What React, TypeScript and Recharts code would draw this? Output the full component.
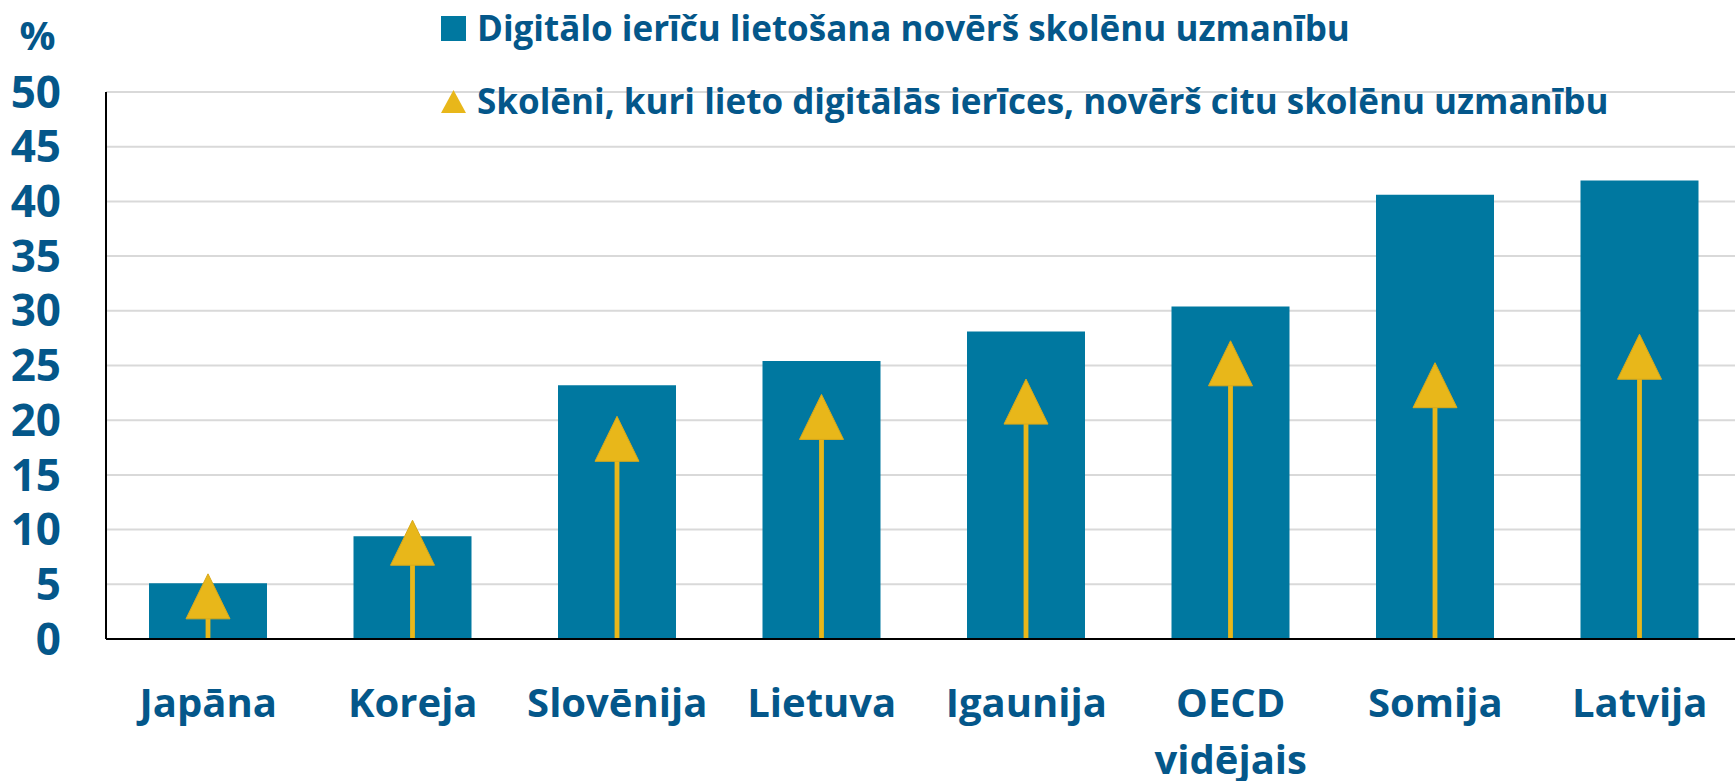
import { Bar, ComposedChart, CartesianGrid, XAxis, YAxis } from "recharts";

const countries = ["Japāna", "Koreja", "Slovēnija", "Lietuva", "Igaunija", "OECD\nvidējais", "Somija", "Latvija"];
const devicesDistract = [5.1, 9.4, 23.2, 25.4, 28.1, 30.4, 40.6, 41.9];
const othersDistract = [3.9, 8.8, 18.3, 20.3, 21.7, 25.2, 23.2, 25.8];
const yTicks = [0, 5, 10, 15, 20, 25, 30, 35, 40, 45, 50];

const seriesNames = [
  "Digitālo ierīču lietošana novērš skolēnu uzmanību",
  "Skolēni, kuri lieto digitālās ierīces, novērš citu skolēnu uzmanību",
];

const data = countries.map((c, i) => ({ country: c, devices: devicesDistract[i], others: othersDistract[i] }));

const BLUE = "#0078A0";
const GOLD = "#E8B71A";
const TEXT = "#04578A";
const FONT = "'Open Sans', Lato, sans-serif";

function ArrowShape(props: any) {
  const { x, y, width, height } = props;
  const cx = x + width / 2;
  const base = y + height;
  const tw = 44;
  const th = 45;
  return (
    <g>
      <rect x={cx - 2.4} y={y} width={4.8} height={Math.max(0, base - y)} fill={GOLD} />
      <polygon
        points={`${cx},${y - th / 2} ${cx - tw / 2},${y + th / 2} ${cx + tw / 2},${y + th / 2}`}
        fill={GOLD}
        stroke="#D9A91A"
        strokeWidth={1}
      />
    </g>
  );
}

function CountryTick(props: any) {
  const { x, y, payload } = props;
  const lines = String(payload.value).split("\n");
  return (
    <text x={x} y={y} textAnchor="middle" fill={TEXT} fontSize={40} fontWeight={700} fontFamily={FONT}>
      {lines.map((l, i) => (
        <tspan key={i} x={x} dy={i === 0 ? 70 : 56.5}>
          {l}
        </tspan>
      ))}
    </text>
  );
}

function LegendBox() {
  return (
    <svg width={1300} height={125} style={{ position: "absolute", left: 435, top: 0 }}>
      <rect x={6} y={16} width={25} height={25} fill={BLUE} />
      <text x={42} y={41} fill={TEXT} fontSize={35} fontWeight={700} fontFamily={FONT}>
        {seriesNames[0]}
      </text>
      <polygon points="18.5,90 6,113 31,113" fill={GOLD} />
      <text x={42} y={114} fill={TEXT} fontSize={35} fontWeight={700} fontFamily={FONT}>
        {seriesNames[1]}
      </text>
    </svg>
  );
}

export default function App() {
  return (
    <div style={{ position: "absolute", left: 0, top: 0, width: 1735, height: 781, overflow: "hidden", background: "#fff" }}>
      <ComposedChart width={1760} height={781} data={data} margin={{ top: 92, right: 18, left: 0, bottom: 0 }}>
        <CartesianGrid vertical={false} stroke="#D9D9D9" strokeWidth={2} />
        <XAxis dataKey="country" xAxisId="arrows" hide height={0} />
        <XAxis
          dataKey="country"
          xAxisId="bars"
          height={142}
          axisLine={{ stroke: "#000", strokeWidth: 2 }}
          tickLine={false}
          tick={<CountryTick />}
          interval={0}
        />
        <YAxis
          width={106}
          domain={[0, 50]}
          ticks={yTicks}
          interval={0}
          axisLine={{ stroke: "#000", strokeWidth: 2 }}
          tickLine={false}
          tickSize={0}
          tickMargin={45}
          tick={{ fill: TEXT, fontSize: 44, fontWeight: 700, fontFamily: FONT }}
        />
        <Bar xAxisId="bars" dataKey="devices" name={seriesNames[0]} fill={BLUE} barSize={118} isAnimationActive={false} />
        <Bar
          xAxisId="arrows"
          dataKey="others"
          name={seriesNames[1]}
          fill={GOLD}
          barSize={118}
          shape={<ArrowShape />}
          isAnimationActive={false}
        />
      </ComposedChart>
      <LegendBox />
      <svg width={80} height={70} style={{ position: "absolute", left: 0, top: 0 }}>
        <text x={37.5} y={50} textAnchor="middle" fill={TEXT} fontSize={40} fontWeight={700} fontFamily={FONT}>
          %
        </text>
      </svg>
    </div>
  );
}
